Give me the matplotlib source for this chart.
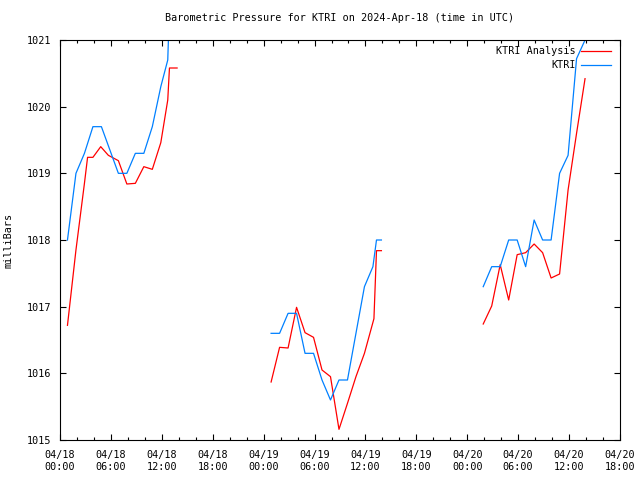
import matplotlib
matplotlib.use("Agg")
import matplotlib.pyplot as plt
import matplotlib.dates as mdates
import numpy as np
import pandas as pd

start = pd.Timestamp("2024-04-18 00:00")

# hours after 04/18 00:00 UTC, NaN = gap in the record
ktri_hours = [0.88, 1.88, 2.88, 3.88, 4.88, 5.88, 6.88, 7.88, 8.88, 9.88, 10.88, 11.88, 12.7, 12.9, 13.8,
              np.nan,
              24.88, 25.88, 26.88, 27.88, 28.88, 29.88, 30.88, 31.88, 32.88, 33.88, 34.88, 35.88, 36.88, 37.3, 37.88,
              np.nan,
              49.88, 50.88, 51.88, 52.88, 53.88, 54.88, 55.88, 56.88, 57.88, 58.88, 59.88, 60.88, 61.88]
ktri_mb = [1018.0, 1019.0, 1019.3, 1019.7, 1019.7, 1019.35, 1019.0, 1019.0, 1019.3, 1019.3, 1019.7, 1020.3, 1020.7, 1021.5, 1021.5,
           np.nan,
           1016.6, 1016.6, 1016.9, 1016.9, 1016.3, 1016.3, 1015.9, 1015.6, 1015.9, 1015.9, 1016.6, 1017.3, 1017.6, 1018.0, 1018.0,
           np.nan,
           1017.3, 1017.6, 1017.6, 1018.0, 1018.0, 1017.6, 1018.3, 1018.0, 1018.0, 1019.0, 1019.27, 1020.72, 1021.0]

anl_hours = [0.88, 1.88, 2.88, 3.25, 3.88, 4.8, 5.7, 6.88, 7.88, 8.88, 9.88, 10.88, 11.88, 12.7, 12.9, 13.8,
             np.nan,
             24.88, 25.88, 26.88, 27.88, 28.88, 29.88, 30.88, 31.88, 32.88, 33.88, 34.88, 35.88, 37.0, 37.3, 37.88,
             np.nan,
             49.88, 50.88, 51.88, 52.88, 53.88, 54.88, 55.88, 56.88, 57.88, 58.88, 59.88, 60.88, 61.88]
anl_mb = [1016.72, 1017.85, 1018.85, 1019.24, 1019.24, 1019.4, 1019.27, 1019.19, 1018.84, 1018.85, 1019.1, 1019.06, 1019.46, 1020.1, 1020.58, 1020.58,
          np.nan,
          1015.87, 1016.39, 1016.38, 1016.99, 1016.61, 1016.54, 1016.05, 1015.95, 1015.16, 1015.55, 1015.95, 1016.3, 1016.82, 1017.84, 1017.84,
          np.nan,
          1016.74, 1017.01, 1017.63, 1017.1, 1017.78, 1017.81, 1017.94, 1017.81, 1017.43, 1017.49, 1018.75, 1019.6, 1020.42]

ktri_t = start + pd.to_timedelta(ktri_hours, unit="h")
anl_t = start + pd.to_timedelta(anl_hours, unit="h")

plt.rcParams["font.family"] = ["DejaVu Sans Mono"]
plt.rcParams["font.size"] = 7.3

fig = plt.figure(figsize=(6.4, 4.8), dpi=100)
ax = fig.add_axes([60 / 640, 40 / 480, 560 / 640, 400 / 480])

ax.plot(anl_t, anl_mb, color="#ff0000", lw=0.9, label="KTRI Analysis")
ax.plot(ktri_t, ktri_mb, color="#0080ff", lw=0.9, label="KTRI")

ax.set_xlim(start, start + pd.Timedelta(hours=66))
ax.set_ylim(1015, 1021)
ax.set_yticks(np.arange(1015, 1022, 1))
ax.yaxis.set_major_formatter(matplotlib.ticker.FormatStrFormatter("%d"))

ax.xaxis.set_major_locator(mdates.HourLocator(byhour=[0, 6, 12, 18]))
ax.xaxis.set_minor_locator(mdates.HourLocator(byhour=range(0, 24, 2)))
ax.xaxis.set_major_formatter(mdates.DateFormatter("%m/%d\n%H:%M"))

ax.tick_params(which="both", direction="in", top=True, right=True, width=0.8, color="black")
ax.tick_params(which="major", length=4.5)
ax.tick_params(which="minor", length=2.5)
ax.tick_params(axis="y", pad=6)
ax.tick_params(axis="x", pad=7)
for lbl in ax.get_xticklabels():
    lbl.set_linespacing(1.3)
for s in ax.spines.values():
    s.set_linewidth(0.8)

ax.set_title("Barometric Pressure for KTRI on 2024-Apr-18 (time in UTC)", fontsize=7.3, pad=14)
ax.set_ylabel("milliBars", fontsize=7.3)
ax.yaxis.set_label_coords(-0.083, 0.5)

ax.legend(loc="upper right", bbox_to_anchor=(0.995, 1.0), frameon=False, markerfirst=False,
          handlelength=3.0, handletextpad=0.5, labelspacing=0.4, borderaxespad=0.2, fontsize=7.3)

fig.savefig("out.png", dpi=100)
